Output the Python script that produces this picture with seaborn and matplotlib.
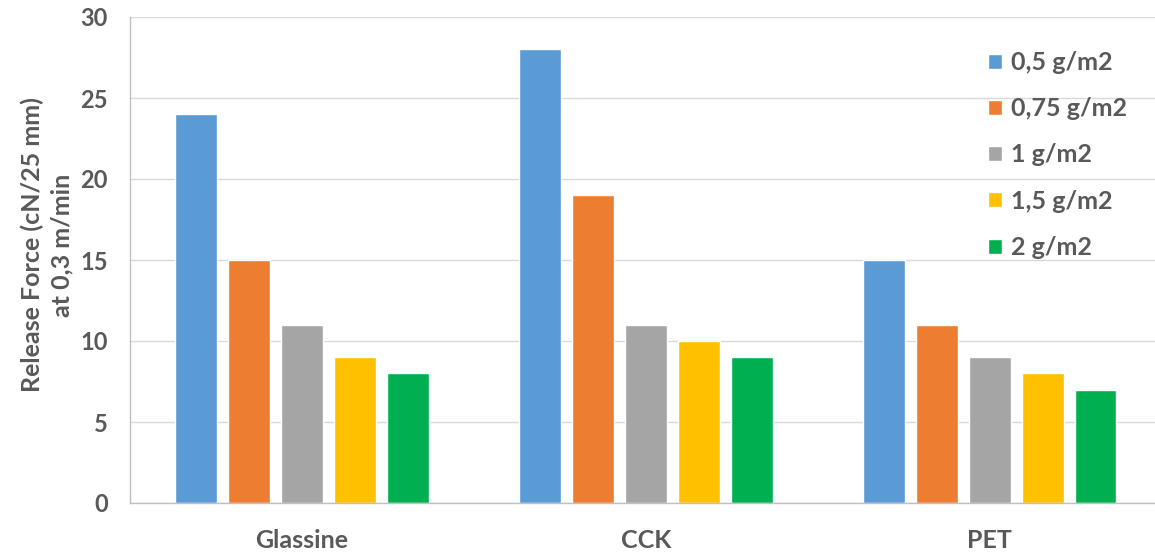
import matplotlib
matplotlib.use("Agg")
import matplotlib.pyplot as plt
import seaborn as sns
import pandas as pd

# Release force per substrate and silicone coat weight
substrates = ["Glassine", "CCK", "PET"]
coat_weights = ["0,5 g/m2", "0,75 g/m2", "1 g/m2", "1,5 g/m2", "2 g/m2"]
force_05 = [24, 28, 15]
force_075 = [15, 19, 11]
force_1 = [11, 11, 9]
force_15 = [9, 10, 8]
force_2 = [8, 9, 7]
y_ticks = [0, 5, 10, 15, 20, 25, 30]

colors = ["#5b9bd5", "#ed7d31", "#a5a5a5", "#ffc000", "#00b050"]

series = [force_05, force_075, force_1, force_15, force_2]
rows = []
for cw, vals in zip(coat_weights, series):
    for sub, v in zip(substrates, vals):
        rows.append({"Substrate": sub, "Coat": cw, "Force": v})
df = pd.DataFrame(rows)

sns.set_theme(style="white")
plt.rcParams["font.family"] = ["Lato", "DejaVu Sans"]

text_color = "#595959"
fs = 18
fig = plt.figure(figsize=(11.55, 5.54), dpi=100)
ax = fig.add_axes([130 / 1155, 1 - 503 / 554, 1 - 130 / 1155, (503 - 17) / 554])

sns.barplot(data=df, x="Substrate", y="Force", hue="Coat", order=substrates,
            hue_order=coat_weights, palette=colors, width=0.77, gap=0.22,
            saturation=1, ax=ax, legend=True)

ax.set_xlim(-0.5, 2.48)
ax.set_ylim(0, 30)
ax.set_yticks(y_ticks)
ax.set_yticklabels([str(t) for t in y_ticks])
ax.yaxis.grid(True, color="#d9d9d9", linewidth=1)
ax.set_axisbelow(True)
for side in ["top", "right"]:
    ax.spines[side].set_visible(False)
for side in ["left", "bottom"]:
    ax.spines[side].set_color("#bfbfbf")
    ax.spines[side].set_linewidth(1)

ax.tick_params(axis="both", length=0, labelcolor=text_color)
ax.tick_params(axis="x", pad=19, labelsize=fs)
ax.tick_params(axis="y", pad=16, labelsize=17)
for lbl in ax.get_xticklabels() + ax.get_yticklabels():
    lbl.set_fontweight("bold")

ax.set_xlabel("")
ax.set_ylabel("")
fig.text(47 / 1155, 1 - 245 / 554, "Release Force (cN/25 mm)\nat 0,3 m/min",
         rotation=90, ha="center", va="center", fontsize=fs, fontweight="bold",
         color=text_color, linespacing=1.35, multialignment="center")

leg = ax.legend(loc="upper left", bbox_to_anchor=(988 / 1155, 1 - 51 / 554),
                bbox_transform=fig.transFigure, frameon=False, fontsize=fs,
                handlelength=0.55, handleheight=0.55, handletextpad=0.36,
                labelspacing=0.93, borderaxespad=0, borderpad=0)
for t in leg.get_texts():
    t.set_color(text_color)
    t.set_fontweight("bold")

fig.savefig("out.png", dpi=100)
